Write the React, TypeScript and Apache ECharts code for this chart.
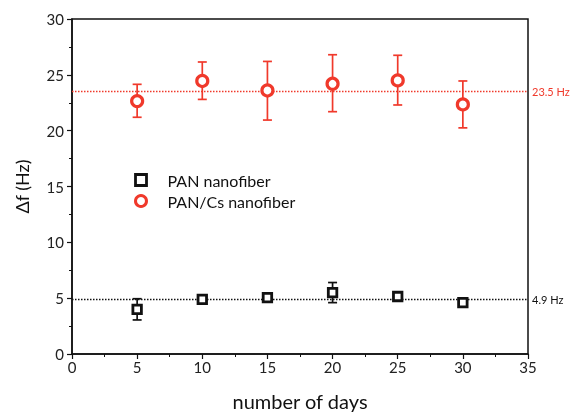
import React, { useEffect, useRef } from "react";
import * as echarts from "echarts";

const days = [5, 10, 15, 20, 25, 30];
const panMean = [4.0, 4.9, 5.05, 5.5, 5.15, 4.6];
const panErr = [0.95, 0.25, 0.25, 0.9, 0.2, 0.15];
const csMean = [22.65, 24.45, 23.6, 24.2, 24.5, 22.35];
const csErrUp = [1.5, 1.7, 2.6, 2.6, 2.25, 2.1];
const csErrDown = [1.45, 1.65, 2.65, 2.5, 2.2, 2.1];
const refPan = 4.9;
const refCs = 23.5;

const RED = "#f0392b";
const FONT = "Lato, 'Open Sans', sans-serif";

export default function App() {
  const ref = useRef<HTMLDivElement>(null);
  useEffect(() => {
    if (!ref.current) return;
    const chart = echarts.init(ref.current, null, { renderer: "svg" });

    const errData = (means: number[], up: number[], down: number[]) =>
      days.map((d, i) => [d, means[i] - down[i], means[i] + up[i]]);

    const errRender = (color: string) => (params: any, api: any) => {
      const x = api.value(0);
      const lo = api.coord([x, api.value(1)]);
      const hi = api.coord([x, api.value(2)]);
      const cap = 4.5;
      const style = { stroke: color, lineWidth: 1.7 };
      return {
        type: "group",
        children: [
          { type: "line", shape: { x1: lo[0], y1: lo[1], x2: hi[0], y2: hi[1] }, style },
          { type: "line", shape: { x1: hi[0] - cap, y1: hi[1], x2: hi[0] + cap, y2: hi[1] }, style },
          { type: "line", shape: { x1: lo[0] - cap, y1: lo[1], x2: lo[0] + cap, y2: lo[1] }, style },
        ],
      };
    };

    chart.setOption({
      animation: false,
      textStyle: { fontFamily: FONT },
      grid: {
        left: 72, right: 48, top: 19, bottom: 62,
        outerBoundsMode: "none",
        containLabel: false,
        show: true, borderColor: "#111", borderWidth: 1.5, backgroundColor: "transparent",
      },
      legend: {
        orient: "vertical",
        left: 134,
        top: 172,
        padding: 0,
        itemWidth: 11,
        itemHeight: 11,
        itemGap: 5,
        textStyle: { fontSize: 16, color: "#111", fontFamily: FONT, padding: [0, 0, 0, 16] },
        data: [
          { name: "PAN nanofiber", icon: "rect", itemStyle: { color: "#fff", borderColor: "#111", borderWidth: 2.8 } },
          { name: "PAN/Cs nanofiber", icon: "circle", itemStyle: { color: "#fff", borderColor: RED, borderWidth: 3 } },
        ],
      },
      xAxis: {
        type: "value",
        min: 0,
        max: 35,
        interval: 5,
        name: "number of days",
        nameLocation: "middle",
        nameGap: 37,
        nameTextStyle: { fontSize: 20, color: "#111", fontFamily: FONT },
        axisLine: { lineStyle: { color: "#111", width: 1.5 } },
        axisTick: { show: true, inside: false, length: 5, lineStyle: { color: "#111", width: 1.2 } },
        minorTick: { show: true, splitNumber: 2, length: 3, lineStyle: { color: "#111", width: 1 } },
        axisLabel: { fontSize: 15, color: "#222", margin: 5, fontFamily: FONT },
        splitLine: { show: false },
      },
      yAxis: {
        type: "value",
        min: 0,
        max: 30,
        interval: 5,
        name: "\u0394f (Hz)",
        nameLocation: "middle",
        nameGap: 41,
        nameTextStyle: { fontSize: 18, color: "#111", fontFamily: FONT },
        axisLine: { show: true, lineStyle: { color: "#111", width: 1.5 } },
        axisTick: { show: true, inside: false, length: 5, lineStyle: { color: "#111", width: 1.2 } },
        minorTick: { show: true, splitNumber: 2, length: 3, lineStyle: { color: "#111", width: 1 } },
        axisLabel: { fontSize: 15, color: "#222", margin: 8, fontFamily: FONT },
        splitLine: { show: false },
      },
      series: [
        {
          type: "custom",
          name: "panErr",
          renderItem: errRender("#111"),
          data: errData(panMean, panErr, panErr),
          encode: { x: 0, y: [1, 2] },
          z: 2,
          silent: true,
        },
        {
          type: "custom",
          name: "csErr",
          renderItem: errRender(RED),
          data: errData(csMean, csErrUp, csErrDown),
          encode: { x: 0, y: [1, 2] },
          z: 2,
          silent: true,
        },
        {
          type: "scatter",
          name: "PAN nanofiber",
          symbol: "rect",
          symbolSize: 8.5,
          itemStyle: { color: "#fff", borderColor: "#111", borderWidth: 2.8, opacity: 1 },
          data: days.map((d, i) => [d, panMean[i]]),
          z: 5,
          markLine: {
            silent: true,
            symbol: "none",
            lineStyle: { color: "#111", type: [1.5, 1.5], width: 1.3 },
            label: { show: true, position: "end", formatter: refPan + " Hz", color: "#111", fontSize: 11, distance: 4, fontFamily: FONT },
            data: [{ yAxis: refPan }],
          },
        },
        {
          type: "scatter",
          name: "PAN/Cs nanofiber",
          symbol: "circle",
          symbolSize: 11,
          itemStyle: { color: "#fff", borderColor: RED, borderWidth: 3.2, opacity: 1 },
          data: days.map((d, i) => [d, csMean[i]]),
          z: 5,
          markLine: {
            silent: true,
            symbol: "none",
            lineStyle: { color: RED, type: [1.5, 1.5], width: 1.3 },
            label: { show: true, position: "end", formatter: refCs + " Hz", color: RED, fontSize: 11, distance: 4, fontFamily: FONT },
            data: [{ yAxis: refCs }],
          },
        },
      ],
    });
    return () => chart.dispose();
  }, []);
  return <div ref={ref} style={{ position: "fixed", left: 0, top: 0, width: 576, height: 416 }} />;
}
